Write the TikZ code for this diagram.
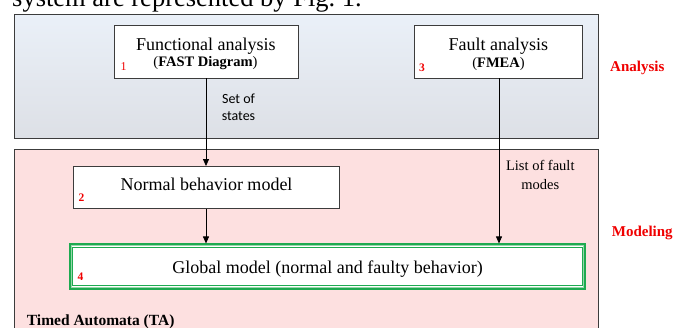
\documentclass[tikz,border=0pt]{standalone}
\usepackage{fontspec}
\setmainfont{Liberation Serif}
\newfontfamily\labelsans{Carlito}
\usetikzlibrary{arrows.meta,calc}
\definecolor{anatop}{RGB}{234,240,248}
\definecolor{anabot}{RGB}{221,224,230}
\definecolor{modfill}{RGB}{253,224,224}
\definecolor{frame}{RGB}{60,60,60}
\definecolor{gdark}{RGB}{30,170,80}
\definecolor{glight}{RGB}{150,215,170}
\definecolor{numred}{RGB}{240,0,0}
\tikzset{
  box/.style={draw=frame, line width=0.9pt, fill=white, rectangle, inner sep=0},
  txt/.style={inner sep=0, anchor=base, font=\fontsize{18}{20}\selectfont},
  subtxt/.style={inner sep=0, anchor=base, font=\fontsize{14.5}{16}\selectfont},
  sidelab/.style={inner sep=0, anchor=base west, text=numred, font=\bfseries\fontsize{15}{17}\selectfont},
  num/.style={inner sep=0, anchor=base west, text=numred, font=\bfseries\fontsize{11.5}{13}\selectfont},
  flow/.style={draw=black, line width=0.8pt, -{Triangle[length=7pt,width=6pt]}},
  seglab/.style={inner sep=0, anchor=base, font=\labelsans\fontsize{14}{16}\selectfont},
  faultlab/.style={inner sep=0, anchor=base, font=\fontsize{14.5}{16}\selectfont}
}
\begin{document}
\begin{tikzpicture}[x=1pt,y=-1pt]
\clip (0,0) rectangle (675,327);
\fill[white] (0,0) rectangle (675,327);
% caption fragment at top
\node[inner sep=0, anchor=base west, font=\fontsize{26.5}{28}\selectfont] (cap) at (12,6.5) {system are represented by Fig.~1.};
% Analysis region
\shade[top color=anatop, bottom color=anabot] (14,14) rectangle (598,138);
\draw[frame, line width=0.9pt] (14,14) rectangle (598,138);
% Modeling region
\fill[modfill] (14,149) rectangle (598,340);
\draw[frame, line width=0.9pt] (14,340) -- (14,149) -- (598,149) -- (598,340);
% Boxes
\node[box, minimum width=184, minimum height=53] (fa) at (206,51.5) {};
\node[box, minimum width=168, minimum height=53] (fm) at (498,51.5) {};
\node[box, minimum width=266, minimum height=42] (nb) at (206,187.5) {};
\node[draw=gdark, line width=1.6pt, fill=white, rectangle, inner sep=0, minimum width=515, minimum height=44.5] (gm) at (327.5,266.5) {};
\draw[glight, line width=1pt] ($(gm.north west)+(2.2,2.2)$) rectangle ($(gm.south east)+(-2.2,-2.2)$);
\draw[gdark, line width=1pt] ($(gm.north west)+(3.6,3.6)$) rectangle ($(gm.south east)+(-3.6,-3.6)$);
% Texts
\node[txt] (fat) at (205.8,50) {Functional analysis};
\node[subtxt] (fas) at (205.5,66.7) {(\textbf{FAST Diagram})};
\node[txt] (fmt) at (498.3,50) {Fault analysis};
\node[subtxt] (fms) at (498.5,67) {(\textbf{FMEA})};
\node[txt] (nbt) at (206.5,190) {Normal behavior model};
\node[txt] (gmt) at (327.5,273) {Global model (normal and faulty behavior)};
% numbers
\node[num, font=\fontsize{12}{13}\selectfont] (n1) at (120.5,70.7) {1};
\node[num] (n3) at (419,71.7) {3};
\node[num] (n2) at (78.3,201) {2};
\node[num] (n4) at (77.3,280) {4};
% side labels
\node[sidelab] (ana) at (610,71.7) {Analysis};
\node[sidelab] (mod) at (611.7,236) {Modeling};
\node[inner sep=0, anchor=base west, font=\bfseries\fontsize{15.5}{17}\selectfont] (ta) at (26.7,325) {Timed Automata (TA)};
% arrows
\draw[flow] (fa.south) -- (nb.north);
\draw[flow] (nb.south) -- (nb.south |- gm.north);
\coordinate (fmx) at (499,78);
\draw[flow] (fmx) -- (fmx |- gm.north);
% arrow labels
\node[seglab] (s1) at (238.5,103.3) {Set of};
\node[seglab] (s2) at (238.5,120) {states};
\node[faultlab] (l1) at (540.3,170.7) {List of fault};
\node[faultlab] (l2) at (540.3,189) {modes};
\end{tikzpicture}
\end{document}
